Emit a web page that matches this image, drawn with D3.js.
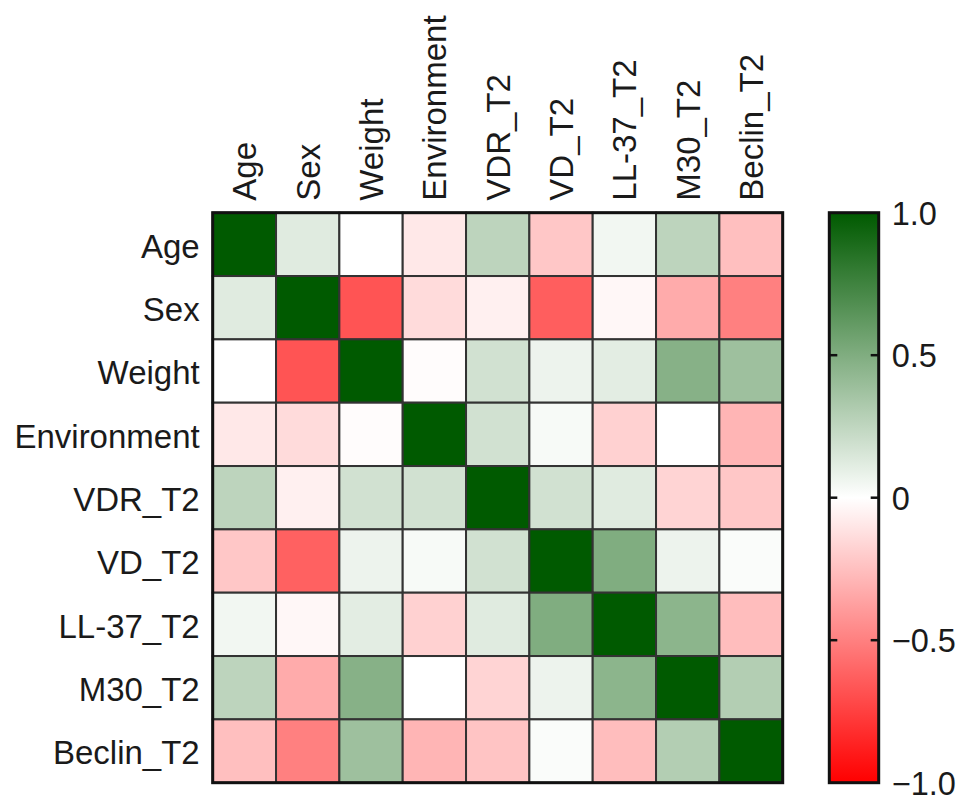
<!DOCTYPE html>
<html>
<head>
<meta charset="utf-8">
<script src="https://cdn.jsdelivr.net/npm/d3@7"></script>
<style>
  html, body { margin: 0; padding: 0; background: #fff; }
  svg { display: block; }
  text { font-family: "Liberation Sans", Arial, Helvetica, sans-serif; fill: #1a1a1a; }
</style>
</head>
<body>
<svg id="chart" width="969" height="808"></svg>
<script>
// ---- data ----
const categories = ["Age", "Sex", "Weight", "Environment", "VDR_T2", "VD_T2", "LL-37_T2", "M30_T2", "Beclin_T2"];
const rowAge         = [ 1.00,  0.12,  0.00, -0.09,  0.26, -0.22,  0.05,  0.26, -0.25];
const rowSex         = [ 0.12,  1.00, -0.67, -0.14, -0.06, -0.63, -0.03, -0.33, -0.50];
const rowWeight      = [ 0.00, -0.67,  1.00, -0.01,  0.18,  0.07,  0.11,  0.47,  0.38];
const rowEnvironment = [-0.09, -0.14, -0.01,  1.00,  0.18,  0.03, -0.18,  0.00, -0.29];
const rowVDR         = [ 0.26, -0.06,  0.18,  0.18,  1.00,  0.18,  0.12, -0.17, -0.22];
const rowVD          = [-0.22, -0.62,  0.07,  0.03,  0.18,  1.00,  0.50,  0.07,  0.02];
const rowLL37        = [ 0.05, -0.03,  0.11, -0.18,  0.12,  0.50,  1.00,  0.45, -0.26];
const rowM30         = [ 0.26, -0.33,  0.47,  0.00, -0.17,  0.07,  0.45,  1.00,  0.30];
const rowBeclin      = [-0.25, -0.50,  0.38, -0.29, -0.23,  0.02, -0.26,  0.30,  1.00];
const colorbarTicks  = [1.0, 0.5, 0, -0.5, -1.0];
const colorbarInnerTicks = [0.5, 0, -0.5];

const matrix = [rowAge, rowSex, rowWeight, rowEnvironment, rowVDR, rowVD, rowLL37, rowM30, rowBeclin];
const cells = [];
matrix.forEach((row, i) => row.forEach((v, j) => cells.push({ r: categories[i], c: categories[j], v })));

// ---- layout ----
const gx0 = 212.7, gx1 = 782.7, gy0 = 212.7, gy1 = 782.7;
const cbx0 = 829.3, cbx1 = 878.7;
const labelSize = 33;
const cbLabelSize = 32.5;

const svg = d3.select("#chart");

const x = d3.scaleBand().domain(categories).range([gx0, gx1]).padding(0);
const y = d3.scaleBand().domain(categories).range([gy0, gy1]).padding(0);
const color = d3.scaleLinear().domain([-1, 0, 1]).range(["#ff0000", "#ffffff", "#005a00"]);

// cells
svg.append("g").selectAll("rect").data(cells).join("rect")
  .attr("x", d => x(d.c))
  .attr("y", d => y(d.r))
  .attr("width", x.bandwidth())
  .attr("height", y.bandwidth())
  .attr("fill", d => color(d.v))
  .attr("stroke", "#333")
  .attr("stroke-width", 2);

// outer frame
svg.append("rect")
  .attr("x", gx0).attr("y", gy0)
  .attr("width", gx1 - gx0).attr("height", gy1 - gy0)
  .attr("fill", "none").attr("stroke", "#111").attr("stroke-width", 3);

// left axis labels
const yAxis = svg.append("g")
  .attr("transform", `translate(${gx0},0)`)
  .call(d3.axisLeft(y).tickSize(0).tickPadding(13));
yAxis.select(".domain").remove();
yAxis.selectAll("text")
  .attr("font-size", labelSize)
  .attr("font-family", "Liberation Sans, Arial, sans-serif")
  .attr("fill", "#1a1a1a")
  .attr("dy", "0.40em");

// top axis labels (rotated)
const xAxis = svg.append("g")
  .attr("transform", `translate(0,${gy0})`)
  .call(d3.axisTop(x).tickSize(0).tickPadding(0));
xAxis.select(".domain").remove();
xAxis.selectAll("text")
  .attr("font-size", labelSize)
  .attr("font-family", "Liberation Sans, Arial, sans-serif")
  .attr("fill", "#1a1a1a")
  .attr("text-anchor", "start")
  .attr("x", 0)
  .attr("y", 0)
  .attr("dy", "0.36em")
  .attr("transform", "translate(0,-12) rotate(-90)");

// colorbar
const cbScale = d3.scaleLinear().domain([-1, 1]).range([gy1, gy0]);
const defs = svg.append("defs");
const grad = defs.append("linearGradient").attr("id", "cbgrad")
  .attr("x1", 0).attr("y1", 1).attr("x2", 0).attr("y2", 0);
d3.range(-1, 1.0001, 0.1).forEach(v => {
  grad.append("stop").attr("offset", (v + 1) / 2).attr("stop-color", color(v));
});
svg.append("rect")
  .attr("x", cbx0).attr("y", gy0)
  .attr("width", cbx1 - cbx0).attr("height", gy1 - gy0)
  .attr("fill", "url(#cbgrad)")
  .attr("stroke", "#111").attr("stroke-width", 3);

// inner ticks on both sides
const tickG = svg.append("g");
colorbarInnerTicks.forEach(t => {
  tickG.append("line").attr("x1", cbx0).attr("x2", cbx0 + 8)
    .attr("y1", cbScale(t)).attr("y2", cbScale(t))
    .attr("stroke", "#111").attr("stroke-width", 2.5);
  tickG.append("line").attr("x1", cbx1 - 8).attr("x2", cbx1)
    .attr("y1", cbScale(t)).attr("y2", cbScale(t))
    .attr("stroke", "#111").attr("stroke-width", 2.5);
});

// colorbar labels
const cbAxis = svg.append("g")
  .attr("transform", `translate(${cbx1},0)`)
  .call(d3.axisRight(cbScale).tickValues(colorbarTicks).tickSize(0).tickPadding(13)
    .tickFormat(d => d === 0 ? "0" : d3.format(".1f")(d)));
cbAxis.select(".domain").remove();
cbAxis.selectAll("text")
  .attr("font-size", cbLabelSize)
  .attr("font-family", "Liberation Sans, Arial, sans-serif")
  .attr("fill", "#1a1a1a")
  .attr("dy", "0.36em");
</script>
</body>
</html>
